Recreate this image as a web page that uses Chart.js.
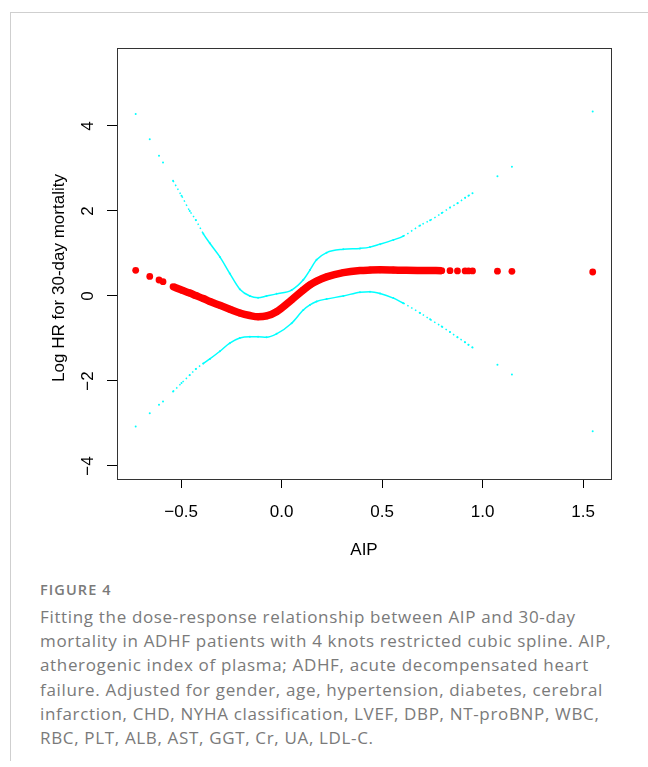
<!DOCTYPE html>
<html>
<head>
<meta charset="utf-8">
<script src="https://cdn.jsdelivr.net/npm/chart.js@4.4.1/dist/chart.umd.min.js"></script>
<style>
  html, body { margin: 0; padding: 0; background: #fff; }
  body { width: 648px; height: 767px; position: relative; overflow: hidden; }
  #frame { position: absolute; left: 10px; top: 12px; width: 640px; height: 748px;
           border-top: 1px solid #cfcfcf; border-left: 1px solid #cfcfcf; }
  #wrap { position: absolute; left: 0; top: 0; width: 648px; height: 575px; }
  #caption { position: absolute; left: 40px; top: 580px; width: 605px;
             font-family: "Open Sans", Lato, sans-serif; color: #7a7a7a; }
  #caption .fig { font-size: 14.5px; font-weight: 600; letter-spacing: 1.1px; line-height: 20px; }
  #caption .txt { font-size: 17px; line-height: 24.2px; margin-top: 5px; letter-spacing: 0.66px; white-space: nowrap; }
</style>
</head>
<body>
<div id="frame"></div>
<div id="wrap"><canvas id="chart"></canvas></div>
<div id="caption">
  <div class="fig">FIGURE 4</div>
  <div class="txt">Fitting the dose-response relationship between AIP and 30-day<br>mortality in ADHF patients with 4 knots restricted cubic spline. AIP,<br>atherogenic index of plasma; ADHF, acute decompensated heart<br>failure. Adjusted for gender, age, hypertension, diabetes, cerebral<br>infarction, CHD, NYHA classification, LVEF, DBP, NT-proBNP, WBC,<br>RBC, PLT, ALB, AST, GGT, Cr, UA, LDL-C.</div>
</div>
<script>
// values (AIP on x, log HR on y)
const aip = [-0.726, -0.656, -0.61, -0.59, -0.54, -0.498, -0.457, -0.427, -0.39, -0.357,
  -0.307, -0.258, -0.208, -0.158, -0.117, -0.075, -0.025, 0.05, 0.108, 0.141,
  0.174, 0.224, 0.307, 0.39, 0.44, 0.49, 0.556, 0.606, 0.689, 0.739,
  0.797, 0.838, 0.875, 0.913, 0.93, 0.95, 1.074, 1.146, 1.548];
const estimate = [0.605, 0.46, 0.376, 0.337, 0.22, 0.14, 0.07, 0.01, -0.06, -0.13,
  -0.22, -0.31, -0.40, -0.46, -0.49, -0.47, -0.37, -0.09, 0.14, 0.26,
  0.35, 0.45, 0.55, 0.60, 0.61, 0.615, 0.61, 0.605, 0.60, 0.60,
  0.595, 0.595, 0.59, 0.59, 0.59, 0.59, 0.585, 0.58, 0.565];
const upperCI = [4.28, 3.69, 3.30, 3.14, 2.71, 2.36, 2.0, 1.79, 1.47, 1.24,
  0.92, 0.53, 0.16, 0.0, -0.04, 0.0, 0.05, 0.14, 0.38, 0.61,
  0.85, 1.02, 1.10, 1.12, 1.15, 1.22, 1.32, 1.41, 1.66, 1.78,
  1.95, 2.08, 2.18, 2.31, 2.36, 2.42, 2.82, 3.04, 4.34];
const lowerCI = [-3.07, -2.76, -2.56, -2.48, -2.25, -2.05, -1.86, -1.72, -1.59, -1.48,
  -1.30, -1.11, -0.99, -0.96, -0.96, -0.97, -0.89, -0.64, -0.33, -0.21,
  -0.13, -0.07, 0.0, 0.09, 0.10, 0.06, -0.05, -0.17, -0.40, -0.55,
  -0.72, -0.85, -0.97, -1.09, -1.15, -1.21, -1.62, -1.85, -3.18];
const xTicks = [-0.5, 0, 0.5, 1, 1.5];
const yTicks = [-4, -2, 0, 2, 4];

const RFONT = "'Liberation Sans', Arial, sans-serif";
const minus = s => String(s).replace('-', '\u2212');
const pts = ys => aip.map((x, i) => ({ x: x, y: ys[i] }));
const between = (c, a, b) => c.p0.parsed.x >= a && c.p1.parsed.x <= b;

const cyanSegment = {
  borderColor: c => between(c, -0.545, 0.96) ? '#00ffff' : 'transparent',
  borderDash: c => between(c, -0.42, 0.61) ? [] : [1.5, 3]
};

const rPlot = {
  id: 'rPlot',
  afterDraw(chart) {
    const ctx = chart.ctx, a = chart.chartArea;
    const ys = chart.scales.y;
    ctx.save();
    ctx.strokeStyle = '#333';
    ctx.lineWidth = 1;
    ctx.strokeRect(Math.round(a.left) + 0.5, Math.round(a.top) + 0.5,
      Math.round(a.right - a.left), Math.round(a.bottom - a.top));
    ctx.fillStyle = '#000';
    ctx.font = '17px ' + RFONT;
    ctx.textAlign = 'center';
    ctx.textBaseline = 'middle';
    ys.ticks.forEach(t => {
      ctx.save();
      ctx.translate(88, ys.getPixelForValue(t.value));
      ctx.rotate(-Math.PI / 2);
      ctx.fillText(minus(t.value), 0, 0);
      ctx.restore();
    });
    ctx.save();
    ctx.translate(59, 278);
    ctx.rotate(-Math.PI / 2);
    ctx.fillText('Log HR for 30-day mortality', 0, 0);
    ctx.restore();
    ctx.fillText('AIP', (a.left + a.right) / 2, 550);
    ctx.restore();
  }
};

new Chart(document.getElementById('chart'), {
  type: 'scatter',
  data: {
    datasets: [
      {
        label: 'upper',
        data: pts(upperCI),
        showLine: true,
        cubicInterpolationMode: 'monotone',
        borderColor: '#00ffff',
        borderWidth: 1.5,
        backgroundColor: '#00ffff',
        pointRadius: 1,
        pointBorderWidth: 0,
        segment: cyanSegment
      },
      {
        label: 'lower',
        data: pts(lowerCI),
        showLine: true,
        cubicInterpolationMode: 'monotone',
        borderColor: '#00ffff',
        borderWidth: 1.5,
        backgroundColor: '#00ffff',
        pointRadius: 1,
        pointBorderWidth: 0,
        segment: cyanSegment
      },
      {
        label: 'estimate',
        data: pts(estimate),
        showLine: true,
        cubicInterpolationMode: 'monotone',
        borderColor: '#ff0000',
        borderWidth: 7.5,
        backgroundColor: '#ff0000',
        pointRadius: 3.4,
        pointBorderWidth: 0,
        segment: {
          borderColor: c => between(c, -0.545, 0.80) ? '#ff0000' : 'transparent'
        }
      }
    ]
  },
  options: {
    responsive: true,
    maintainAspectRatio: false,
    animation: false,
    events: [],
    layout: { padding: { top: 48, right: 37, left: 0, bottom: 0 } },
    plugins: { legend: { display: false }, tooltip: { enabled: false } },
    scales: {
      x: {
        type: 'linear',
        min: -0.819,
        max: 1.639,
        afterBuildTicks: s => { s.ticks = xTicks.map(v => ({ value: v })); },
        afterFit: s => { s.height = 96; },
        border: { display: false },
        grid: { drawOnChartArea: false, drawTicks: true, tickLength: 9, color: '#000', lineWidth: 1 },
        ticks: {
          color: '#000',
          font: { size: 17, family: RFONT },
          padding: 14,
          maxRotation: 0,
          callback: v => minus(v.toFixed(1))
        }
      },
      y: {
        type: 'linear',
        min: -4.306,
        max: 5.835,
        afterBuildTicks: s => { s.ticks = yTicks.map(v => ({ value: v })); },
        afterFit: s => { s.width = 117; },
        border: { display: false },
        grid: { drawOnChartArea: false, drawTicks: true, tickLength: 10, color: '#000', lineWidth: 1 },
        ticks: { display: false }
      }
    }
  },
  plugins: [rPlot]
});
</script>
</body>
</html>
